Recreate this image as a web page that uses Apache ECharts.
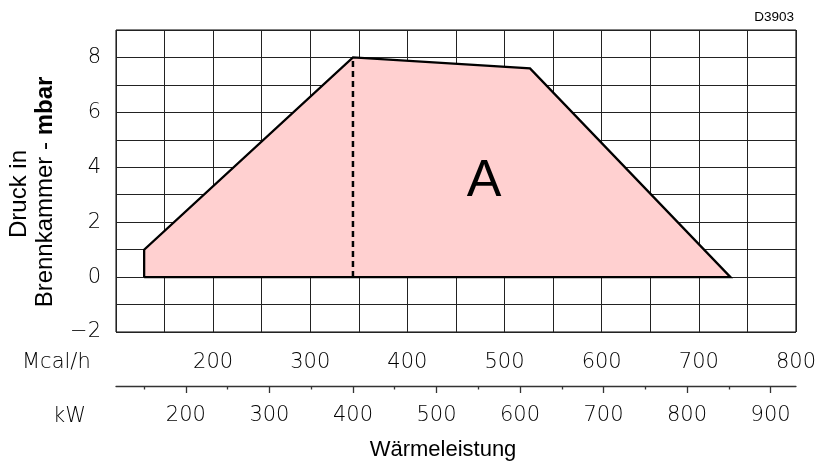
<!DOCTYPE html>
<html>
<head>
<meta charset="utf-8">
<script src="https://cdn.jsdelivr.net/npm/echarts@6/dist/echarts.min.js"></script>
<style>html,body{margin:0;padding:0;background:#fff}#c{width:819px;height:463px}</style>
</head>
<body>
<div id="c"></div>
<script>
// Operating envelope (x in kW, y in mbar)
const envelopeKW   = [150, 150, 400, 612, 852, 150];
const envelopeMbar = [0,   1,   8,   7.6, 0,   0];
// dashed vertical reference
const dashKW   = [400, 400];
const dashMbar = [0, 8];
// axis labels
const mcalLabels = [200, 300, 400, 500, 600, 700, 800];
const kwLabels   = [200, 300, 400, 500, 600, 700, 800, 900];
const kwMinor    = [150, 250, 350, 450, 550, 650, 750, 850];
const yLabels    = [-2, 0, 2, 4, 6, 8];
// axis ranges (Mcal/h grid 100..800 == kW 116.3..930.4)
const mcalMin = 100, mcalMax = 800;
const kwMin = 116.3, kwMax = 930.4;

const tickFont = {fontFamily: 'DejaVu Sans', fontWeight: 200, fontSize: 21, color: '#000'};

const chart = echarts.init(document.getElementById('c'), null, {renderer: 'canvas'});
chart.setOption({
  animation: false,
  backgroundColor: '#fff',
  grid: {left: 116, right: 23, top: 30, bottom: 131, show: true, borderColor: '#000', borderWidth: 1, backgroundColor: 'transparent'},
  xAxis: [
    {
      type: 'value', min: mcalMin, max: mcalMax, interval: 50, position: 'bottom',
      axisLine: {show: false}, axisTick: {show: false},
      splitLine: {show: true, lineStyle: {color: '#222', width: 1}},
      axisLabel: Object.assign({margin: 20, formatter: v => mcalLabels.includes(v) ? String(v) : ''}, tickFont)
    },
    {
      type: 'value', min: kwMin, max: kwMax, position: 'bottom', offset: 54,
      axisLine: {show: true, lineStyle: {color: '#333', width: 1.3}},
      axisTick: {show: true, length: 7, customValues: kwLabels, lineStyle: {color: '#333', width: 1.3}},
      splitLine: {show: false},
      axisLabel: Object.assign({margin: 19, customValues: kwLabels, formatter: v => String(v)}, tickFont)
    },
    {
      type: 'value', min: kwMin, max: kwMax, position: 'bottom', offset: 54,
      axisLine: {show: false},
      axisTick: {show: true, length: 3.5, customValues: kwMinor, lineStyle: {color: '#333', width: 1.3}},
      splitLine: {show: false},
      axisLabel: {show: false}
    }
  ],
  yAxis: {
    type: 'value', min: -2, max: 9, interval: 1,
    axisLine: {show: false}, axisTick: {show: false},
    splitLine: {show: true, lineStyle: {color: '#222', width: 1}},
    axisLabel: Object.assign({margin: 15, formatter: v => yLabels.includes(v) ? String(v).replace('-', '\u2212') : ''}, tickFont)
  },
  series: [
    {
      type: 'line', xAxisIndex: 1, yAxisIndex: 0, symbol: 'none', smooth: false,
      data: envelopeKW.map((x, i) => [x, envelopeMbar[i]]),
      lineStyle: {color: '#000', width: 2.3, join: 'miter'},
      areaStyle: {color: '#FFD0D0', opacity: 1, origin: 0},
      z: 1
    },
    {
      type: 'line', xAxisIndex: 1, yAxisIndex: 0, symbol: 'none',
      data: dashKW.map((x, i) => [x, dashMbar[i]]),
      lineStyle: {color: '#000', width: 2.5, type: [6, 4]},
      z: 3
    }
  ],
  graphic: [
    {type: 'text', left: 22, top: 352, style: {text: 'Mcal/h', font: '200 21px "DejaVu Sans"', fill: '#000'}},
    {type: 'text', left: 53, top: 406, style: {text: 'kW', font: '200 21px "DejaVu Sans"', fill: '#000'}},
    {type: 'text', x: 443, y: 450, style: {text: 'Wärmeleistung', font: '22px "Liberation Sans"', fill: '#000', align: 'center', verticalAlign: 'middle'}},
    {type: 'text', x: 484, y: 182, z: 10, style: {text: 'A', font: '52px "Liberation Sans"', fill: '#000', align: 'center', verticalAlign: 'middle'}},
    {type: 'text', x: 794, y: 17, style: {text: 'D3903', font: '13.5px "Liberation Sans"', fill: '#000', align: 'right', verticalAlign: 'middle'}},
    {type: 'text', x: 19, y: 194, rotation: Math.PI / 2, style: {text: 'Druck in', font: '24px "Liberation Sans"', fill: '#000', align: 'center', verticalAlign: 'middle'}},
    {type: 'text', x: 45, y: 192, rotation: Math.PI / 2, style: {
      text: '{n|Brennkammer - }{b|mbar}', align: 'center', verticalAlign: 'middle',
      rich: {
        n: {font: '24px "Liberation Sans"', fill: '#000'},
        b: {font: 'bold 24px "Liberation Sans"', fill: '#000'}
      }
    }}
  ]
});
</script>
</body>
</html>
